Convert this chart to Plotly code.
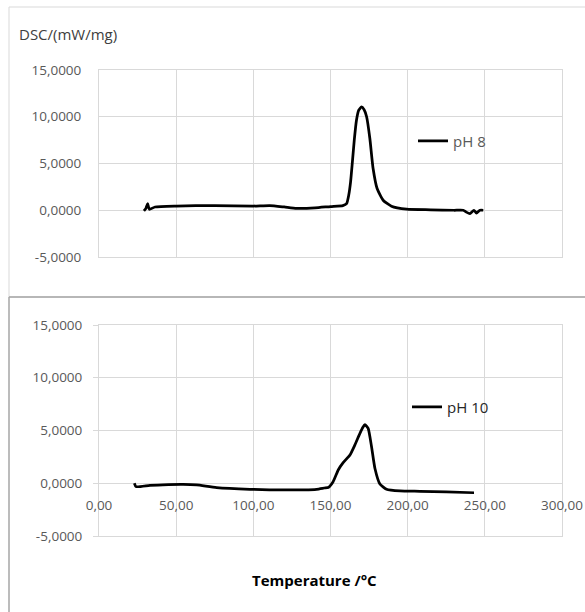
import plotly.graph_objects as go

W, H = 585, 612

# ---- data ----
temp_ph8 = [29.1, 30.4, 31.5, 32.6, 36.3, 50, 75, 100, 110.7, 120, 128, 140, 150, 158,
            160.4, 161.8, 163.0, 164.2, 165.4, 166.8, 168.3, 170.1, 171.8, 173.4, 175.5,
            177.6, 180.2, 184.1, 189.5, 199.3, 215, 230, 236, 238, 240.3, 242.9, 244.6,
            246.8, 249]
dsc_ph8 = [-0.07, 0.2, 0.7, 0.1, 0.35, 0.45, 0.5, 0.45, 0.5, 0.35, 0.2, 0.25, 0.4, 0.5,
           0.7, 1.6, 3.0, 5.2, 7.5, 9.6, 10.7, 11.05, 10.75, 10.0, 7.67,
           4.46, 2.32, 1.07, 0.43, 0.11, 0.05, 0.0, 0.0, -0.2, -0.35, 0.0, -0.3,
           0.0, 0.0]

temp_ph10 = [22.9, 24, 33, 45, 54.6, 63.3, 76.2, 97.8, 119.4, 141, 146, 148.5, 151.7, 155,
             158.2, 162.6, 165.8, 169, 171, 172.3, 174.4, 176.6, 178.8, 182, 186.3, 195,
             208, 225, 243]
dsc_ph10 = [0.0, -0.32, -0.2, -0.12, -0.1, -0.16, -0.41, -0.57, -0.63, -0.57, -0.45, -0.4,
            0.15, 1.26, 1.95, 2.68, 3.63, 4.7, 5.3, 5.55, 5.2, 3.46, 1.4, -0.07, -0.57,
            -0.73, -0.76, -0.82, -0.9]

series_names = ["pH 8", "pH 10"]
x_tick_vals = [0, 50, 100, 150, 200, 250, 300]
x_tick_text = ["0,00", "50,00", "100,00", "150,00", "200,00", "250,00", "300,00"]
y_tick_vals = [-5, 0, 5, 10, 15]
y_tick_text = ["-5,0000", "0,0000", "5,0000", "10,0000", "15,0000"]

FONT = "Open Sans"
GRID = "#d9d9d9"
TICKC = "#595959"


def px(x):
    return x / W


def py(y):
    return 1 - y / H


fig = go.Figure()
fig.add_trace(go.Scatter(x=temp_ph8, y=dsc_ph8, mode="lines", name=series_names[0],
                         line=dict(color="black", width=2.75, shape="spline", smoothing=0.5),
                         xaxis="x", yaxis="y", legend="legend"))
fig.add_trace(go.Scatter(x=temp_ph10, y=dsc_ph10, mode="lines", name=series_names[1],
                         line=dict(color="black", width=2.75, shape="spline", smoothing=0.5),
                         xaxis="x2", yaxis="y2", legend="legend2"))
# invisible trace to carry the tick-label axis crossing at zero
fig.add_trace(go.Scatter(x=[0], y=[0], mode="markers", marker=dict(opacity=0),
                         showlegend=False, hoverinfo="skip", xaxis="x3", yaxis="y2"))

xdom = [px(99), px(562)]
common_x = dict(range=[0, 300], tickvals=x_tick_vals, showgrid=True, gridcolor=GRID,
                gridwidth=1, zeroline=False, showline=True, linecolor=GRID, mirror=True,
                domain=xdom, fixedrange=True, automargin=False)
common_y = dict(range=[-5, 15], tickvals=y_tick_vals, ticktext=y_tick_text, showgrid=True,
                gridcolor=GRID, gridwidth=1, zeroline=False, showline=True, linecolor=GRID,
                mirror=True, tickfont=dict(family=FONT, size=13.5, color=TICKC),
                fixedrange=True, automargin=False)

fig.update_layout(
    width=W, height=H, margin=dict(l=0, r=0, t=0, b=0, pad=0, autoexpand=False),
    paper_bgcolor="white", plot_bgcolor="white",
    xaxis=dict(**common_x, anchor="y", showticklabels=False),
    yaxis=dict(**common_y, anchor="x", domain=[py(257), py(70)], ticks="",
               ticklabelstandoff=14),
    xaxis2=dict(**common_x, anchor="y2", showticklabels=False),
    yaxis2=dict(**common_y, anchor="x2", domain=[py(536), py(325)], ticks="outside",
                ticklen=5, tickcolor=GRID, ticklabelstandoff=8),
    xaxis3=dict(range=[0, 300], tickvals=x_tick_vals, ticktext=x_tick_text, overlaying="x2",
                anchor="free", position=py(483.3), side="bottom", showgrid=False,
                zeroline=False, showline=False, ticks="", domain=xdom, automargin=False,
                ticklabelstandoff=12,
                tickfont=dict(family=FONT, size=13.5, color=TICKC), fixedrange=True),
    legend=dict(x=px(413), y=py(141), xanchor="left", yanchor="middle",
                bgcolor="rgba(0,0,0,0)", font=dict(family=FONT, size=15, color=TICKC)),
    legend2=dict(x=px(407), y=py(407), xanchor="left", yanchor="middle",
                 bgcolor="rgba(0,0,0,0)", font=dict(family=FONT, size=15, color="#262626")),
    showlegend=True,
)

# panel borders
fig.add_shape(type="rect", xref="paper", yref="paper", x0=px(9), x1=px(590), y0=py(297),
              y1=py(7), line=dict(color=GRID, width=1), layer="below")
fig.add_shape(type="line", xref="paper", yref="paper", x0=px(9), x1=px(590), y0=py(297),
              y1=py(297), line=dict(color="#a6a6a6", width=1.5))
fig.add_shape(type="line", xref="paper", yref="paper", x0=px(9), x1=px(9), y0=py(297),
              y1=py(615), line=dict(color="#a6a6a6", width=1.5))

fig.add_annotation(text="DSC/(mW/mg)", xref="paper", yref="paper", x=px(17), y=py(34),
                   xanchor="left", yanchor="middle", showarrow=False,
                   font=dict(family=FONT, size=15, color="#404040"))
fig.add_annotation(text="<b>Temperature /°C</b>", xref="paper", yref="paper", x=px(314),
                   y=py(580), xanchor="center", yanchor="middle", showarrow=False,
                   font=dict(family=FONT, size=15, color="black"))

fig.write_html("out.html")
